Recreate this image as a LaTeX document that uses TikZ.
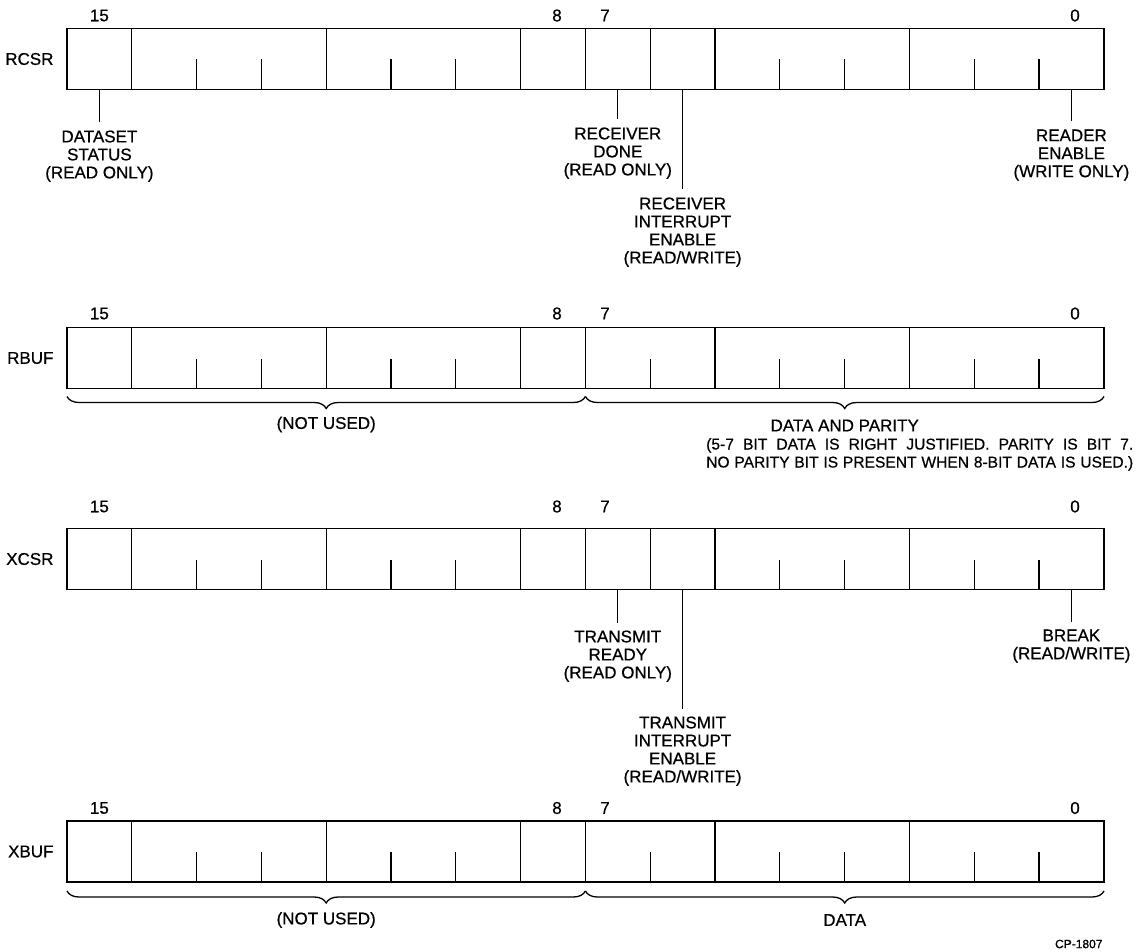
\documentclass[tikz,border=0pt]{standalone}
\usepackage{fontspec}
\setmainfont[FakeBold=0.6]{Liberation Sans}
\usetikzlibrary{positioning,calc,decorations.pathreplacing}

\tikzset{
  regbox/.style={draw, line width=1.8pt, minimum width=1037pt, minimum height=61pt, inner sep=0pt, outer sep=0pt},
  divider/.style={line width=1.3pt},
  fieldtext/.style={align=center, inner sep=0pt, outer sep=0pt},
  pointer/.style={line width=1.3pt, shorten >=8pt},
  bracemark/.style={decorate, decoration={brace, amplitude=12pt, mirror}, line width=1.3pt},
}
\newcommand{\bitw}{64.8}

\begin{document}
\begin{tikzpicture}[x=1pt, y=1pt, font=\fontsize{17}{18}\selectfont]
\useasboundingbox (0,0) rectangle (1148,-952);

% RCSR
\node[regbox] (rcsr) at (585.5,-59) {};
\node[left=10pt of rcsr.west] (rcsrname) {RCSR};
\foreach \k in {1,4,7,8,9,10,13}
  \draw[divider] ($(rcsr.north west)+(\k*\bitw,0)$) -- ($(rcsr.south west)+(\k*\bitw,0)$);
\foreach \k in {2,3,5,6,11,12,14,15}
  \draw[divider] ($(rcsr.south west)+(\k*\bitw,0)$) -- ++(0,30);
\foreach \n/\dx in {15/32.4, 8/490, 7/538, 0/1008}
  \node (rcsr\n) at ($(rcsr.north west)+(\dx,13)$) {\n};
\coordinate (rcsrb15) at ($(rcsr.south west)+(0.5*\bitw,0)$);
\coordinate (rcsrb7) at ($(rcsr.south west)+(8.5*\bitw,0)$);
\coordinate (rcsrb6) at ($(rcsr.south west)+(9.5*\bitw,0)$);
\coordinate (rcsrb0) at ($(rcsr.south west)+(15.5*\bitw,0)$);
\node[fieldtext, below=41pt of rcsrb15] (dsetstat) {DATASET\\STATUS\\(READ ONLY)};
\node[fieldtext, below=38pt of rcsrb7] (rcvdone) {RECEIVER\\DONE\\(READ ONLY)};
\node[fieldtext, below=108pt of rcsrb6] (rcvint) {RECEIVER\\INTERRUPT\\ENABLE\\(READ/WRITE)};
\node[fieldtext, below=40pt of rcsrb0] (rdrenb) {READER\\ENABLE\\(WRITE ONLY)};
\draw[pointer] (rcsrb15) -- (dsetstat);
\draw[pointer] (rcsrb7) -- (rcvdone);
\draw[pointer] (rcsrb6) -- (rcvint);
\draw[pointer] (rcsrb0) -- (rdrenb);

% RBUF
\node[regbox] (rbuf) at (585.5,-358) {};
\node[left=10pt of rbuf.west] (rbufname) {RBUF};
\foreach \k in {1,4,7,8,10,13}
  \draw[divider] ($(rbuf.north west)+(\k*\bitw,0)$) -- ($(rbuf.south west)+(\k*\bitw,0)$);
\foreach \k in {2,3,5,6,9,11,12,14,15}
  \draw[divider] ($(rbuf.south west)+(\k*\bitw,0)$) -- ++(0,30);
\foreach \n/\dx in {15/32.4, 8/490, 7/538, 0/1008}
  \node (rbuf\n) at ($(rbuf.north west)+(\dx,14)$) {\n};
\coordinate (rbufl) at ($(rbuf.south west)+(0,-8)$);
\coordinate (rbufm) at ($(rbuf.south west)+(8*\bitw,-8)$);
\coordinate (rbufr) at ($(rbuf.south east)+(0,-8)$);
\draw[bracemark] (rbufl) -- (rbufm);
\draw[bracemark] (rbufm) -- (rbufr);
\node (rbufnu) at ($(rbufl)!0.5!(rbufm)+(0,-28)$) {(NOT USED)};
\node (rbufdata) at ($(rbufm)!0.5!(rbufr)+(0,-29)$) {DATA AND PARITY};
\node[anchor=north west, align=left, inner sep=0pt, font=\fontsize{15.6}{18}\selectfont] (rbufnote) at (706,-438)
  {\makebox[427pt][s]{(5-7 BIT DATA IS RIGHT JUSTIFIED. PARITY IS BIT 7.}\\
   \makebox[427pt][s]{NO PARITY BIT IS PRESENT WHEN 8-BIT DATA IS USED.)}};

% XCSR
\node[regbox] (xcsr) at (585.5,-559) {};
\node[left=10pt of xcsr.west] (xcsrname) {XCSR};
\foreach \k in {1,4,7,8,9,10,13}
  \draw[divider] ($(xcsr.north west)+(\k*\bitw,0)$) -- ($(xcsr.south west)+(\k*\bitw,0)$);
\foreach \k in {2,3,5,6,11,12,14,15}
  \draw[divider] ($(xcsr.south west)+(\k*\bitw,0)$) -- ++(0,30);
\foreach \n/\dx in {15/32.4, 8/490, 7/538, 0/1008}
  \node (xcsr\n) at ($(xcsr.north west)+(\dx,22)$) {\n};
\coordinate (xcsrb7) at ($(xcsr.south west)+(8.5*\bitw,0)$);
\coordinate (xcsrb6) at ($(xcsr.south west)+(9.5*\bitw,0)$);
\coordinate (xcsrb0) at ($(xcsr.south west)+(15.5*\bitw,0)$);
\node[fieldtext, below=41pt of xcsrb7] (xmtrdy) {TRANSMIT\\READY\\(READ ONLY)};
\node[fieldtext, below=127pt of xcsrb6] (xmtint) {TRANSMIT\\INTERRUPT\\ENABLE\\(READ/WRITE)};
\node[fieldtext, below=40pt of xcsrb0] (xbrk) {BREAK\\(READ/WRITE)};
\draw[pointer] (xcsrb7) -- (xmtrdy);
\draw[pointer] (xcsrb6) -- (xmtint);
\draw[pointer] (xcsrb0) -- (xbrk);

% XBUF
\node[regbox] (xbuf) at (585.5,-851.5) {};
\node[left=10pt of xbuf.west] (xbufname) {XBUF};
\foreach \k in {1,4,7,8,10,13}
  \draw[divider] ($(xbuf.north west)+(\k*\bitw,0)$) -- ($(xbuf.south west)+(\k*\bitw,0)$);
\foreach \k in {2,3,5,6,9,11,12,14,15}
  \draw[divider] ($(xbuf.south west)+(\k*\bitw,0)$) -- ++(0,30);
\foreach \n/\dx in {15/32.4, 8/490, 7/538, 0/1008}
  \node (xbuf\n) at ($(xbuf.north west)+(\dx,13)$) {\n};
\coordinate (xbufl) at ($(xbuf.south west)+(0,-9)$);
\coordinate (xbufm) at ($(xbuf.south west)+(8*\bitw,-9)$);
\coordinate (xbufr) at ($(xbuf.south east)+(0,-9)$);
\draw[bracemark] (xbufl) -- (xbufm);
\draw[bracemark] (xbufm) -- (xbufr);
\node (xbufnu) at ($(xbufl)!0.5!(xbufm)+(0,-29)$) {(NOT USED)};
\node (xbufdata) at ($(xbufm)!0.5!(xbufr)+(0,-29)$) {DATA};

\node[anchor=east, font=\fontsize{12}{14}\selectfont] (cpnum) at (1106,-944) {CP-1807};
\end{tikzpicture}
\end{document}
